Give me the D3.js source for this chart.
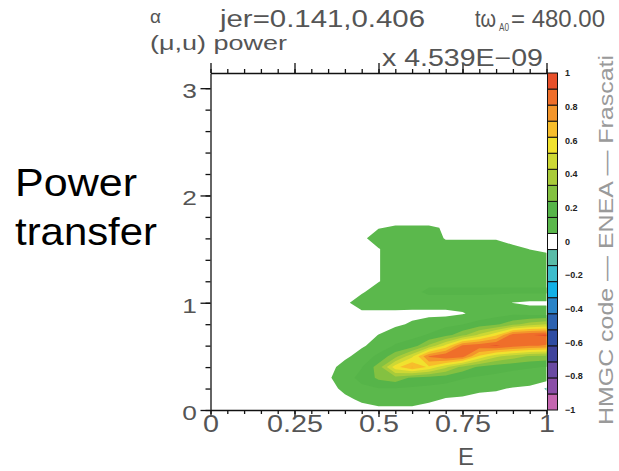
<!DOCTYPE html>
<html>
<head>
<meta charset="utf-8">
<title>Power transfer</title>
<script src="https://cdn.jsdelivr.net/npm/d3@7"></script>
<style>
  body { margin: 0; background: #fff; }
  svg { display: block; }
</style>
</head>
<body>
<svg id="chart" width="619" height="471"></svg>
<script>
// grid of the power map: energy E (columns) and mu (rows)
const eGrid = [0.30, 0.35, 0.40, 0.45, 0.50, 0.55, 0.60, 0.65, 0.70, 0.75, 0.80, 0.85, 0.90, 0.95, 1.00];
const muGrid = [0.0, 0.1, 0.2, 0.3, 0.4, 0.5, 0.6, 0.7, 0.8, 0.9, 1.0, 1.1, 1.2, 1.3, 1.4, 1.5, 1.6, 1.7, 1.8, 1.9];

// normalised power transfer, one row per mu value
const power = [
  [0, 0, 0, 0, 0.02, 0.02, 0.02, 0, 0, 0, 0, 0, 0, 0, 0],
  [0, 0, 0.02, 0.07, 0.1, 0.1, 0.1, 0.07, 0.04, 0.03, 0.02, 0.01, 0, 0, 0],
  [0, 0, 0.08, 0.13, 0.14, 0.14, 0.13, 0.12, 0.11, 0.1, 0.065, 0.06, 0.04, 0.03, -0.06],
  [0, 0.03, 0.12, 0.16, 0.26, 0.3, 0.22, 0.2, 0.18, 0.15, 0.13, 0.12, 0.11, 0.1, 0.1],
  [0, 0, 0.1, 0.14, 0.28, 0.58, 0.72, 0.6, 0.45, 0.3, 0.22, 0.18, 0.16, 0.15, 0.14],
  [0, 0, 0.02, 0.1, 0.16, 0.3, 0.5, 0.82, 0.9, 0.85, 0.6, 0.45, 0.38, 0.32, 0.3],
  [0, 0, 0, 0.03, 0.1, 0.15, 0.18, 0.35, 0.55, 0.83, 0.88, 0.92, 0.86, 0.82, 0.8],
  [0, 0, 0, 0, 0.05, 0.1, 0.12, 0.15, 0.2, 0.3, 0.45, 0.6, 0.86, 0.9, 0.92],
  [0, 0, 0, 0, 0, 0.03, 0.06, 0.1, 0.12, 0.14, 0.18, 0.22, 0.3, 0.38, 0.42],
  [0, 0, 0, 0.026, 0.026, 0.026, 0.02, 0.02, 0.02, 0.04, 0.08, 0.1, 0.12, 0.1, 0.1],
  [0, 0, 0.026, 0.1, 0.1, 0.1, 0.1, 0.1, 0.1, 0.1, 0.1, 0.08, 0.045, 0.03, 0.03],
  [0, 0, 0, 0.035, 0.1, 0.1, 0.12, 0.16, 0.16, 0.16, 0.16, 0.16, 0.16, 0.16, 0.16],
  [0, 0, 0, 0, 0.042, 0.1, 0.1, 0.12, 0.12, 0.12, 0.12, 0.12, 0.12, 0.12, 0.12],
  [0, 0, 0, 0, 0.042, 0.1, 0.1, 0.1, 0.1, 0.1, 0.1, 0.1, 0.1, 0.1, 0.1],
  [0, 0, 0, 0, 0.042, 0.1, 0.1, 0.1, 0.1, 0.1, 0.1, 0.1, 0.1, 0.1, 0.1],
  [0, 0, 0, 0, 0.042, 0.1, 0.1, 0.1, 0.1, 0.1, 0.1, 0.1, 0.08, 0.045, 0.02],
  [0, 0, 0, 0.024, 0.1, 0.1, 0.1, 0.1, 0.04, 0.04, 0.04, 0.04, 0, 0, 0],
  [0, 0, 0, 0, 0.042, 0.06, 0.06, 0.06, 0.04, 0, 0, 0, 0, 0, 0],
  [0, 0, 0, 0, 0, 0, 0, 0, 0, 0, 0, 0, 0, 0, 0],
  [0, 0, 0, 0, 0, 0, 0, 0, 0, 0, 0, 0, 0, 0, 0]
];

// 21 colour levels from -1 (bottom) to 1 (top)
const levelColors = [
  "#c466b0", "#8b4fa8", "#6a4aa2", "#40449c", "#2e4ca2", "#2c62b0", "#2a84c8",
  "#12b0e6", "#3ebdcc", "#5abca8", "#ffffff", "#5bb84c", "#56b449", "#84c141",
  "#a9cb3a", "#cdd835", "#f1e22e", "#f7bd2b", "#f3952b", "#ef6e2a", "#e8502a"
];
const barTickValues = [1, 0.8, 0.6, 0.4, 0.2, 0, -0.2, -0.4, -0.6, -0.8, -1];
const barTickLabels = ["1", "0.8", "0.6", "0.4", "0.2", "0", "−0.2", "−0.4", "−0.6", "−0.8", "−1"];
const xTickValues = [0, 0.25, 0.5, 0.75, 1];
const xTickLabels = ["0", "0.25", "0.5", "0.75", "1"];
const yTickValues = [0, 1, 2, 3];
const yTickLabels = ["0", "1", "2", "3"];

const svg = d3.select("#chart");
const font = "Liberation Sans, Arial, sans-serif";
const ink = "#555";

const x = d3.scaleLinear().domain([0, 1]).range([210.5, 546.5]);
const y = d3.scaleLinear().domain([0, Math.PI]).range([410, 73]);
const cbY = d3.scaleLinear().domain([-1, 1]).range([410, 73]);
const levels = levelColors.map((_, k) => -1 + k * 2 / levelColors.length).concat([1]);

function fitText(sel, len) {
    sel.attr("textLength", len).attr("lengthAdjust", "spacingAndGlyphs");
}
function stretch(sel, factor) {
    sel.each(function () {
        const w = this.getComputedTextLength();
        if (w > 0) d3.select(this).call(fitText, w * factor);
    });
}

// clip to the plot frame
svg.append("defs").append("clipPath").attr("id", "plotClip")
    .append("rect")
    .attr("x", x(0)).attr("y", y(Math.PI))
    .attr("width", x(1) - x(0)).attr("height", y(0) - y(Math.PI));

// contour map
const nx = eGrid.length, ny = muGrid.length;
const dE = eGrid[1] - eGrid[0], dMu = muGrid[1] - muGrid[0];
const flat = power.flat();
const gridPath = d3.geoPath(d3.geoTransform({
    point(cx, cy) {
        this.stream.point(x(eGrid[0] + (cx - 0.5) * dE), y(muGrid[0] + (cy - 0.5) * dMu));
    }
}));

const plot = svg.append("g").attr("clip-path", "url(#plotClip)");

const posBands = d3.range(11, levelColors.length);
plot.selectAll("path.pos")
    .data(d3.contours().size([nx, ny]).thresholds(posBands.map(k => levels[k]))(flat))
    .join("path")
    .attr("class", "pos")
    .attr("d", gridPath)
    .attr("fill", (d, i) => levelColors[posBands[i]]);

const negBands = d3.range(9, -1, -1);
plot.selectAll("path.neg")
    .data(d3.contours().size([nx, ny]).thresholds(negBands.map(k => -levels[k + 1]))(flat.map(v => -v)))
    .join("path")
    .attr("class", "neg")
    .attr("d", gridPath)
    .attr("fill", (d, i) => levelColors[negBands[i]]);

// axes
function styleAxis(g) {
    g.attr("font-family", null).attr("font-size", null);
    g.selectAll("line, path").attr("stroke", "#111").attr("stroke-width", 1.3);
}
const minorX = d3.range(0, 1.001, 0.05);
const minorY = d3.range(0, 3.01, 0.2);

svg.append("g").attr("transform", `translate(0,${y(0)})`)
    .call(d3.axisBottom(x).tickValues(minorX).tickSize(4).tickSizeOuter(0).tickFormat(""))
    .call(g => g.select(".domain").remove())
    .call(styleAxis);
const xAxisG = svg.append("g").attr("transform", `translate(0,${y(0)})`)
    .call(d3.axisBottom(x).tickValues(xTickValues).tickSize(7).tickSizeOuter(0)
        .tickFormat((d, i) => xTickLabels[i]))
    .call(styleAxis);

svg.append("g").attr("transform", `translate(0,${y(Math.PI)})`)
    .call(d3.axisTop(x).tickValues(minorX).tickSize(4).tickSizeOuter(0).tickFormat(""))
    .call(styleAxis);
svg.append("g").attr("transform", `translate(0,${y(Math.PI)})`)
    .call(d3.axisTop(x).tickValues(xTickValues).tickSize(10).tickSizeOuter(0).tickFormat(""))
    .call(g => g.select(".domain").remove())
    .call(styleAxis);

svg.append("g").attr("transform", `translate(${x(0)},0)`)
    .call(d3.axisLeft(y).tickValues(minorY).tickSize(5).tickSizeOuter(0).tickFormat(""))
    .call(styleAxis);
const yAxisG = svg.append("g").attr("transform", `translate(${x(0)},0)`)
    .call(d3.axisLeft(y).tickValues(yTickValues).tickSize(10).tickSizeOuter(0)
        .tickFormat((d, i) => yTickLabels[i]))
    .call(g => g.select(".domain").remove())
    .call(styleAxis);

xAxisG.selectAll("text")
    .attr("y", 22).attr("dy", 0)
    .attr("font-family", font).attr("font-size", 23).attr("fill", ink)
    .call(stretch, 1.25);
yAxisG.selectAll("text")
    .attr("x", -21).attr("dy", "0.45em").attr("text-anchor", "middle")
    .attr("font-family", font).attr("font-size", 21).attr("fill", ink)
    .call(stretch, 1.25);

svg.append("text")
    .attr("x", 466).attr("y", 465).attr("text-anchor", "middle")
    .attr("font-family", font).attr("font-size", 24).attr("fill", ink)
    .text("E");

// colour bar
const bar = svg.append("g");
bar.selectAll("rect").data(levelColors).join("rect")
    .attr("x", 547.5).attr("width", 10)
    .attr("y", (c, k) => cbY(levels[k + 1]))
    .attr("height", (c, k) => cbY(levels[k]) - cbY(levels[k + 1]))
    .attr("fill", c => c)
    .attr("stroke", "#111").attr("stroke-width", 1);
bar.selectAll("text").data(barTickValues).join("text")
    .attr("x", 565).attr("y", d => cbY(d)).attr("dy", "0.35em")
    .attr("font-family", font).attr("font-size", 9).attr("font-weight", "bold").attr("fill", "#222")
    .text((d, i) => barTickLabels[i]);

// header texts
const head = svg.append("g").attr("font-family", font).attr("fill", ink);
head.append("text").attr("x", 150).attr("y", 23).attr("font-size", 19).text("α");
head.append("text").attr("x", 150).attr("y", 50).attr("font-size", 20).text("(μ,u) power").call(fitText, 137);
head.append("text").attr("x", 220).attr("y", 27).attr("font-size", 23).text("jer=0.141,0.406").call(fitText, 205);
head.append("text").attr("x", 475).attr("y", 27).attr("font-size", 23).text("tω").call(fitText, 21);
head.append("text").attr("x", 499).attr("y", 31).attr("font-size", 11).text("A0").call(fitText, 10);
head.append("text").attr("x", 511).attr("y", 27).attr("font-size", 23).text("= 480.00").call(fitText, 94);
head.append("text").attr("x", 382).attr("y", 66).attr("font-size", 23).text("x 4.539E−09").call(fitText, 161);

svg.append("text")
    .attr("transform", "translate(613,240) rotate(-90)")
    .attr("text-anchor", "middle")
    .attr("font-family", font).attr("font-size", 21).attr("fill", "#9a9a9a")
    .text("HMGC code — ENEA — Frascati")
    .call(fitText, 370);

// side title
svg.append("text").attr("x", 15).attr("y", 196)
    .attr("font-family", font).attr("font-size", 39).attr("fill", "#000")
    .text("Power").call(fitText, 122);
svg.append("text").attr("x", 15).attr("y", 245)
    .attr("font-family", font).attr("font-size", 39).attr("fill", "#000")
    .text("transfer").call(fitText, 142);
</script>
</body>
</html>
